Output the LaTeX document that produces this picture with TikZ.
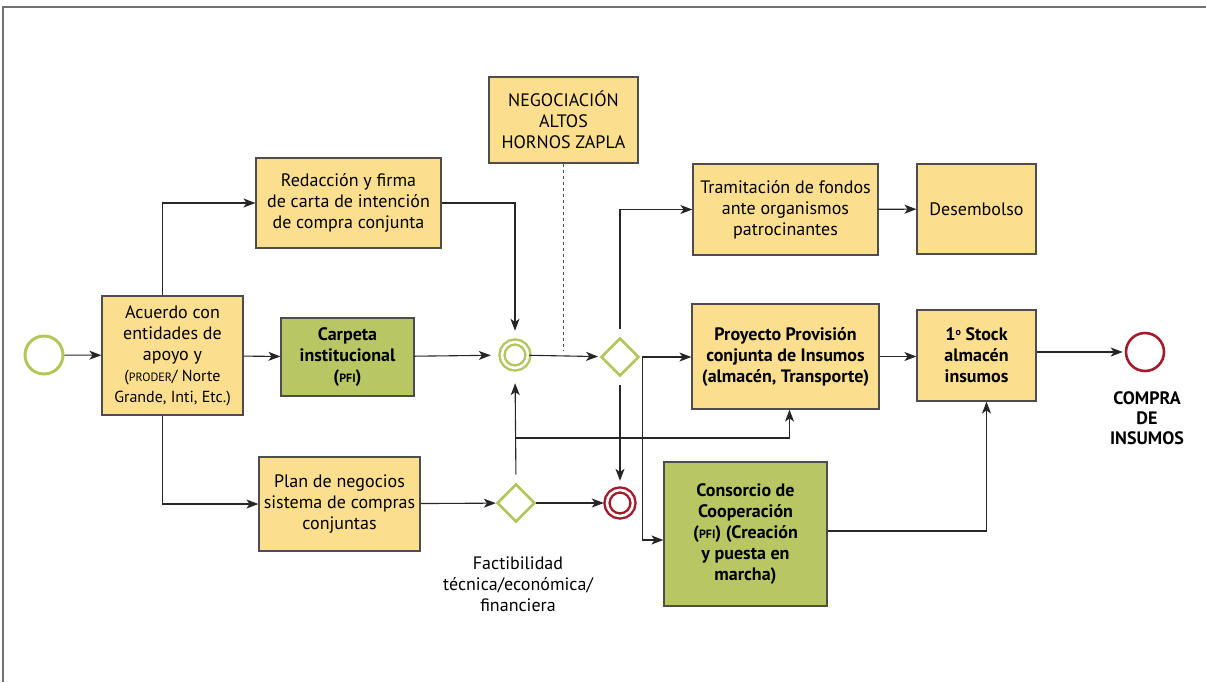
\documentclass[tikz,border=0pt]{standalone}
\usepackage{fontspec}
\setmainfont{PT Sans}
\usetikzlibrary{shapes.geometric,arrows.meta}
\definecolor{boxyellow}{HTML}{FCDF8E}
\definecolor{boxgreen}{HTML}{B8C763}
\definecolor{ringgreen}{HTML}{B5C55C}
\definecolor{ringred}{HTML}{A51A2B}
\definecolor{edgegray}{HTML}{4D4D4D}
\newcommand{\sigla}[1]{{\fontsize{6}{7}\selectfont #1}}

\begin{document}
\begin{tikzpicture}[x=0.5pt,y=-0.5pt,
        every node/.style={font=\fontsize{9}{10.5}\selectfont, align=center, inner sep=2pt},
        task/.style={draw=edgegray, fill=boxyellow, line width=0.6pt},
        greentask/.style={task, fill=boxgreen, font=\fontsize{9}{10.5}\selectfont\bfseries},
        boldtask/.style={task, font=\fontsize{9}{10.5}\selectfont\bfseries},
        startev/.style={circle, draw=ringgreen, line width=1.5pt, minimum size=19pt, inner sep=0pt},
        midev/.style={circle, draw=ringgreen, line width=1.2pt, double=white, double distance=1.3pt, minimum size=13pt, inner sep=0pt},
        redev/.style={midev, draw=ringred},
        endev/.style={circle, draw=ringred, line width=1.3pt, minimum size=19pt, inner sep=0pt},
        gate/.style={diamond, draw=ringgreen, fill=white, line width=1.3pt, minimum size=19pt, inner sep=0pt},
        flow/.style={draw=black!85, line width=0.55pt, -{Stealth[length=6pt,width=4.5pt,inset=1.6pt]}},
    ]
    \useasboundingbox (0,0) rectangle (1206,682);
    \draw[edgegray!80, line width=0.8pt] (3,682) -- (3,7) -- (1206,7);

    % eventos y compuertas
    \node[startev] (inicio) at (44,355) {};
    \node[midev] (dc) at (515,355) {};
    \node[gate] (d1) at (620,357) {};
    \node[gate] (d2) at (516,503) {};
    \node[redev] (rc) at (620,503) {};
    \node[endev] (fin) at (1145,352) {};

    % tareas
    \node[task, minimum width=70.5pt, minimum height=59.5pt] (acuerdo) at (172.5,355.5)
        {Acuerdo con\\entidades de\\apoyo y\\{\fontsize{8}{10}\selectfont(\sigla{PRODER}/ Norte}\\{\fontsize{8}{10}\selectfont Grande, Inti, Etc.)}};
    \node[task, minimum width=92.5pt, minimum height=45pt] (redac) at (348.5,203)
        {Redacción y firma\\de carta de intención\\de compra conjunta};
    \node[greentask, minimum width=66.5pt, minimum height=39pt] (carpeta) at (347.5,357)
        {Carpeta\\institucional\\(\sigla{PFI})};
    \node[task, minimum width=80.5pt, minimum height=47pt] (plan) at (339.5,504)
        {Plan de negocios\\sistema de compras\\conjuntas};
    \node[task, minimum width=74.5pt, minimum height=43pt] (neg) at (563.5,120)
        {NEGOCIACIÓN\\ALTOS\\HORNOS ZAPLA};
    \node[task, minimum width=92.5pt, minimum height=45.5pt] (tram) at (785.5,209.5)
        {Tramitación de fondos\\ante organismos\\patrocinantes};
    \node[task, minimum width=59.5pt, minimum height=45pt] (desem) at (976.5,209)
        {Desembolso};
    \node[boldtask, minimum width=93.5pt, minimum height=52.5pt] (proy) at (785.5,356.5)
        {Proyecto Provisión\\conjunta de Insumos\\(almacén, Transporte)};
    \node[boldtask, minimum width=59.5pt, minimum height=45.5pt] (stock) at (976.5,355.5)
        {1\raisebox{2.5pt}{\fontsize{5}{5}\selectfont o} Stock\\almacén\\insumos};
    \node[greentask, minimum width=81.5pt, minimum height=72pt] (cons) at (745.5,534)
        {Consorcio de\\Cooperación\\(\sigla{PFI}) (Creación\\y puesta en\\marcha)};

    % rotulos
    \node[font=\fontsize{9}{10}\selectfont\bfseries] (compra) at (1147,418) {COMPRA\\DE\\INSUMOS};
    \node (factib) at (518,584) {Factibilidad\\técnica/económica/\\financiera};

    % flujos
    \coordinate (j) at (516,438);
    \draw[flow] (inicio) -- (acuerdo);
    \draw[flow] (acuerdo) -- (carpeta);
    \draw[flow] ([xshift=-5pt]acuerdo.north) |- (redac.west);
    \draw[flow] ([xshift=-5pt]acuerdo.south) |- (plan.west);
    \draw[flow, shorten >=5pt] (redac.east) -| (dc.north);
    \draw[flow, shorten >=5pt] (carpeta) -- (dc);
    \draw[edgegray, line width=0.5pt, dash pattern=on 1.5pt off 1.5pt] (neg.south) -- (neg.south |- 0,350);
    \draw[flow, shorten >=1pt] (dc) -- (d1);
    \draw[flow, shorten <=4pt] (d1.north) |- (tram.west);
    \draw[flow] (tram) -- (desem);
    \draw[flow, shorten <=1pt] (d1.east) -- (proy.west |- d1.east);
    \draw[flow, shorten <=1pt] (d1.east) -- ++(2,0) |- ([yshift=-3pt]cons.west);
    \draw[flow, shorten <=4pt, shorten >=4pt] (d1.south) -- (rc.north);
    \draw[flow] (plan) -- (d2);
    \draw[flow, shorten >=1pt] (d2) -- (rc);
    \draw[flow, shorten <=4pt, shorten >=7pt] (d2.north) -- (dc.south);
    \draw[flow] (j) -| ([xshift=2pt]proy.south);
    \draw[flow] (proy) -- (stock.west |- proy);
    \draw[flow] ([yshift=1.5pt]cons.east) -| ([xshift=5pt]stock.south);
    \draw[flow, shorten >=1pt] (stock.east |- fin) -- (fin);
\end{tikzpicture}
\end{document}
